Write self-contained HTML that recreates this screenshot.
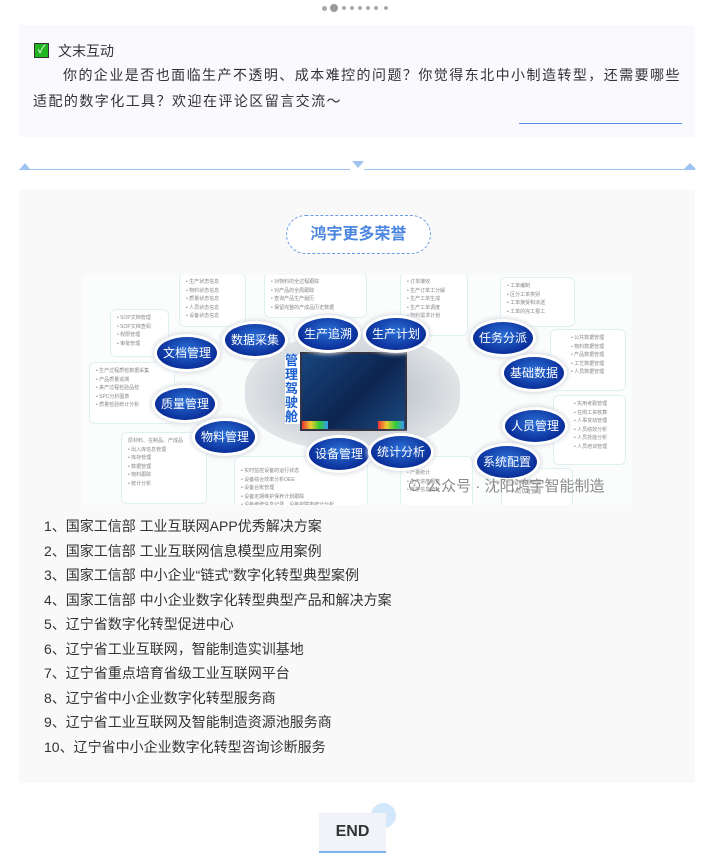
<!DOCTYPE html>
<html><head><meta charset="utf-8"><style>
*{margin:0;padding:0;box-sizing:border-box}
body{width:711px;height:863px;background:#fff;position:relative;overflow:hidden;font-family:"Liberation Sans","Noto Sans CJK SC",sans-serif;color:#333}
.a{position:absolute}
.dot{position:absolute;top:6px;width:5px;height:5px;border-radius:50%;background:#aaa}
.node{position:absolute;width:60px;height:32px;border-radius:50%;background:radial-gradient(ellipse at 50% 40%,#2a6fd6,#0b2f9a 70%,#06207a);color:#fff;font-size:12px;text-align:center;line-height:32px;box-shadow:0 0 0 3px #fff,0 0 5px 4px #d4d8de}
.box{position:absolute;background:#fff;border:1px solid #dff0f2;border-radius:6px;font-size:5px;color:#888;padding:4px 6px;line-height:8.5px;overflow:hidden}
.li{position:absolute;left:44px;font-size:14px;color:#333}
</style></head><body>
<div class="dot" style="left:322px"></div><div class="dot" style="left:330px;top:4px;width:8px;height:8px;background:#999"></div>
<div class="dot" style="left:342px;width:4px;height:4px"></div><div class="dot" style="left:350px;width:4px;height:4px"></div><div class="dot" style="left:358px;width:4px;height:4px"></div><div class="dot" style="left:366px;width:4px;height:4px"></div><div class="dot" style="left:374px;width:4px;height:4px"></div><div class="dot" style="left:384px;width:4px;height:4px"></div>

<div class="a" style="left:19px;top:25px;width:676px;height:112px;background:#f9f9fe"></div>
<div class="a" style="left:34px;top:43px;width:15px;height:15px;background:#22b522;border:1px solid #333;color:#fff;font-size:11px;line-height:13px;text-align:center">✓</div>
<div class="a" style="left:58px;top:41px;font-size:14px">文末互动</div>
<div class="a" style="left:33px;top:62px;width:660px;font-size:14px;letter-spacing:1.45px;line-height:26px;text-indent:30px;white-space:nowrap">你的企业是否也面临生产不透明、成本难控的问题？你觉得东北中小制造转型，还需要哪些<br><span style="display:inline-block;text-indent:0">适配的数字化工具？欢迎在评论区留言交流～</span></div>
<div class="a" style="left:519px;top:123px;width:163px;height:1px;background:#5b8fe0"></div>

<div class="a" style="left:19px;top:169px;width:676px;height:1px;background:#9fc4f2"></div>
<div class="a" style="left:20px;top:163px;width:0;height:0;border-left:5px solid transparent;border-right:5px solid transparent;border-bottom:6px solid #9fc4f2"></div>
<div class="a" style="left:684px;top:163px;width:0;height:0;border-left:6px solid transparent;border-right:6px solid transparent;border-bottom:6px solid #9fc4f2"></div>
<div class="a" style="left:350px;top:166px;width:14px;height:5px;background:#fff"></div>
<div class="a" style="left:352px;top:161px;width:0;height:0;border-left:6px solid transparent;border-right:6px solid transparent;border-top:7px solid #9fc4f2"></div>

<div class="a" style="left:19px;top:190px;width:676px;height:593px;background:#f9f9f9"></div>
<div class="a" style="left:286px;top:215px;width:145px;height:39px;border:1px dashed #6a9be8;border-radius:20px;background:#fff;color:#4a86e0;font-size:16px;font-weight:bold;text-align:center;line-height:37px">鸿宇更多荣誉</div>

<div class="a" style="left:83px;top:275px;width:549px;height:230px;background:#fbfcfc;overflow:hidden">
 <div class="box" style="left:27px;top:34px;width:59px;height:48px">• SOP文档管理<br>• SOP文档查阅<br>• 权限管理<br>• 审批管理</div>
 <div class="box" style="left:6px;top:87px;width:86px;height:62px">• 生产过程质检数据采集<br>• 产品质量追溯<br>• 来产过程检验品检<br>• SPC分析图表<br>• 质量检验统计分析</div>
 <div class="box" style="left:38px;top:157px;width:86px;height:72px">原材料、在制品、产成品<br>• 出入库信息管理<br>• 库存管理<br>• 数据管理<br>• 物料跟踪<br>• 统计分析</div>
 <div class="box" style="left:96px;top:-2px;width:67px;height:54px">• 生产状态信息<br>• 物料状态信息<br>• 质量状态信息<br>• 人员状态信息<br>• 设备状态信息</div>
 <div class="box" style="left:181px;top:-2px;width:103px;height:45px">• 对物料的全过程跟踪<br>• 对产品的全局跟踪<br>• 查询产品生产履历<br>• 保留完整的产成品历史数据</div>
 <div class="box" style="left:317px;top:-2px;width:68px;height:63px">• 订单接收<br>• 生产订单工分解<br>• 生产工单生成<br>• 生产工单调度<br>• 物料需求计划</div>
 <div class="box" style="left:417px;top:2px;width:75px;height:50px">• 工单编制<br>• 区分工单类别<br>• 工单接受和派送<br>• 工单的完工报工</div>
 <div class="box" style="left:467px;top:54px;width:76px;height:62px;padding-left:20px">• 公共数据管理<br>• 物料数据管理<br>• 产品数据管理<br>• 工艺数据管理<br>• 人员数据管理</div>
 <div class="box" style="left:470px;top:120px;width:73px;height:70px;padding-left:20px">• 实用考勤管理<br>• 在岗工资核算<br>• 人事变动管理<br>• 人员绩效分析<br>• 人员技能分析<br>• 人员培训管理</div>
 <div class="box" style="left:151px;top:181px;width:134px;height:60px;padding-top:10px">• 实时监控设备的运行状态<br>• 设备综合效率分析OEE<br>• 设备台账管理<br>• 设备定期维护保养计划跟踪<br>• 设备维修信息记录、设备故障率统计分析</div>
 <div class="box" style="left:317px;top:181px;width:73px;height:60px;padding-top:12px">• 产量统计<br>• 生产进度报表<br>• 库存信息统计</div>
 <div class="box" style="left:418px;top:193px;width:72px;height:50px;padding-top:10px">• 用户权限管理<br>• 人员认证管理</div>
 <div class="a" style="left:162px;top:60px;width:215px;height:115px;border-radius:45%;background:radial-gradient(ellipse,#a9b0b8,#dfe3e6 70%,rgba(251,252,252,0) 100%)"></div>
 <div class="a" style="left:217px;top:77px;width:107px;height:79px;background:linear-gradient(135deg,#17457e,#0d2550 55%,#1b4a80);border:2px solid #334"></div>
 <div class="a" style="left:219px;top:146px;width:26px;height:8px;background:linear-gradient(90deg,#e33,#ec3,#3c3,#39e)"></div>
 <div class="a" style="left:295px;top:146px;width:26px;height:8px;background:linear-gradient(90deg,#e33,#ec3,#3c3,#39e)"></div>
 <div class="a" style="left:202px;top:79px;width:15px;font-size:13px;font-weight:bold;color:#1a5fd0;line-height:14px;background:#fff">管理驾驶舱</div>
 <div class="node" style="left:74px;top:62px">文档管理</div>
 <div class="node" style="left:142px;top:49px">数据采集</div>
 <div class="node" style="left:215px;top:43px">生产追溯</div>
 <div class="node" style="left:283px;top:43px">生产计划</div>
 <div class="node" style="left:390px;top:47px">任务分派</div>
 <div class="node" style="left:421px;top:82px">基础数据</div>
 <div class="node" style="left:72px;top:113px">质量管理</div>
 <div class="node" style="left:112px;top:146px">物料管理</div>
 <div class="node" style="left:422px;top:135px">人员管理</div>
 <div class="node" style="left:226px;top:163px">设备管理</div>
 <div class="node" style="left:288px;top:161px">统计分析</div>
 <div class="node" style="left:394px;top:171px">系统配置</div>
 <div class="a" style="left:324px;top:200px;font-size:15px;color:#8a8a8a">⊙ 公众号 · 沈阳鸿宇智能制造</div>
</div>

<div class="li" style="top:516px">1、国家工信部 工业互联网APP优秀解决方案</div>
<div class="li" style="top:541px">2、国家工信部 工业互联网信息模型应用案例</div>
<div class="li" style="top:565px">3、国家工信部 中小企业“链式”数字化转型典型案例</div>
<div class="li" style="top:590px">4、国家工信部 中小企业数字化转型典型产品和解决方案</div>
<div class="li" style="top:614px">5、辽宁省数字化转型促进中心</div>
<div class="li" style="top:639px">6、辽宁省工业互联网，智能制造实训基地</div>
<div class="li" style="top:663px">7、辽宁省重点培育省级工业互联网平台</div>
<div class="li" style="top:688px">8、辽宁省中小企业数字化转型服务商</div>
<div class="li" style="top:712px">9、辽宁省工业互联网及智能制造资源池服务商</div>
<div class="li" style="top:737px">10、辽宁省中小企业数字化转型咨询诊断服务</div>

<div class="a" style="left:371px;top:803px;width:25px;height:25px;border-radius:50%;background:#d3e8fa"></div>
<div class="a" style="left:319px;top:813px;width:67px;height:38px;background:#f0f4f9;font-size:16px;font-weight:bold;color:#333;text-align:center;line-height:38px">END</div>
<div class="a" style="left:319px;top:851px;width:67px;height:2px;background:#7fb4ee"></div>
</body></html>
